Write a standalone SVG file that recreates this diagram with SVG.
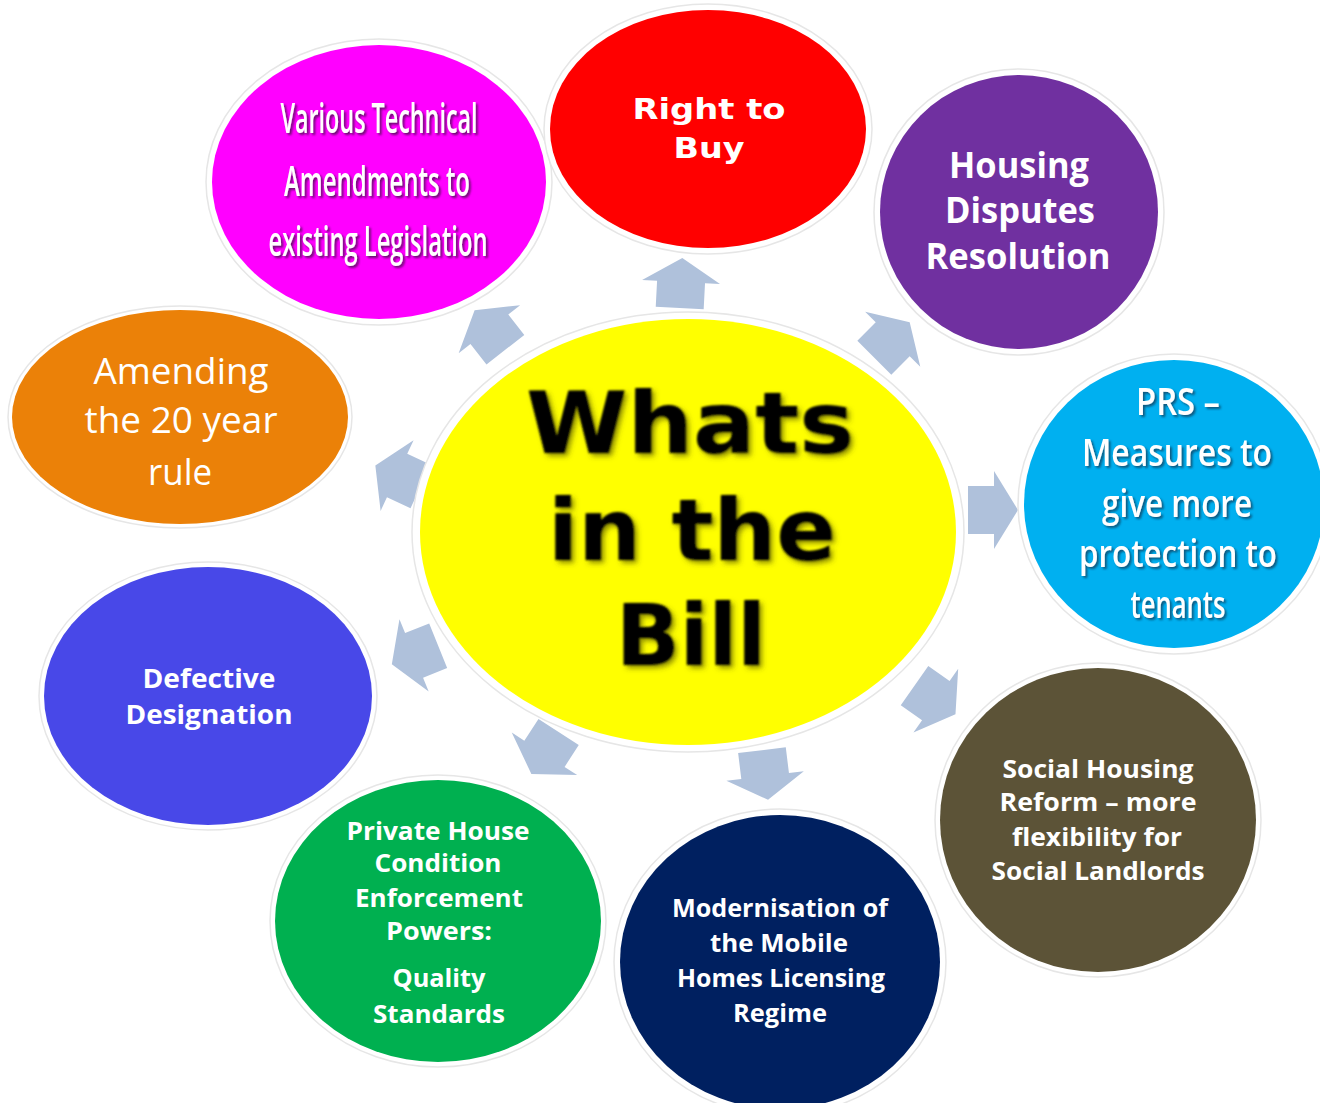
<svg xmlns="http://www.w3.org/2000/svg" width="1320" height="1103" viewBox="0 0 1320 1103">
<defs>
<style>
.halo{fill:#ffffff;stroke:#e6e6e6;stroke-width:1.5}
.t{fill:#ffffff;text-anchor:middle;font-family:"Open Sans","Noto Sans","Liberation Sans",sans-serif;font-weight:bold}
.reg{font-weight:normal}
.dv{font-family:"DejaVu Sans","Open Sans",sans-serif;font-weight:bold}
.arrow{fill:#AFC1DB}
</style>
<filter id="sh" x="-10%" y="-20%" width="120%" height="140%">
<feDropShadow dx="2" dy="2" stdDeviation="1.2" flood-color="#3a1040" flood-opacity="0.75"/>
</filter>
<filter id="shc" x="-10%" y="-20%" width="120%" height="140%">
<feDropShadow dx="2" dy="2" stdDeviation="1.2" flood-color="#0a3050" flood-opacity="0.7"/>
</filter>
<filter id="blur" x="-10%" y="-20%" width="120%" height="140%">
<feGaussianBlur in="SourceGraphic" stdDeviation="1.3" result="b"/>
<feDropShadow in="b" dx="3" dy="3" stdDeviation="2.5" flood-color="#404000" flood-opacity="0.6"/>
</filter>
<path id="arr" d="M0,-25 L39,-1 L24,-1 L24,25 L-24,25 L-24,-1 L-39,-1 Z"/>
</defs>
<rect width="1320" height="1103" fill="#ffffff"/>

<g id="connectors">
<use href="#arr" class="arrow" transform="translate(681,283) rotate(3)"/>
<use href="#arr" class="arrow" transform="translate(490,330) rotate(-38)"/>
<use href="#arr" class="arrow" transform="translate(892,340) rotate(45)"/>
<use href="#arr" class="arrow" transform="translate(993,510) rotate(90)"/>
<use href="#arr" class="arrow" transform="translate(935,700) rotate(125)"/>
<use href="#arr" class="arrow" transform="translate(765,775) rotate(173)"/>
<use href="#arr" class="arrow" transform="translate(545,753) rotate(-147)"/>
<use href="#arr" class="arrow" transform="translate(415,655) rotate(-112)"/>
<use href="#arr" class="arrow" transform="translate(398,476) rotate(-65)"/>
</g>

<g id="center">
<ellipse class="halo" cx="688" cy="532" rx="276" ry="220"/>
<ellipse cx="688" cy="532" rx="268" ry="213" fill="#FFFF00"/>
<g filter="url(#blur)" fill="#000000" text-anchor="middle" class="dv" font-size="86">
<text x="690" y="453" textLength="328" lengthAdjust="spacingAndGlyphs">Whats</text>
<text x="692" y="560" textLength="288" lengthAdjust="spacingAndGlyphs">in the</text>
<text x="691" y="665" textLength="150" lengthAdjust="spacingAndGlyphs">Bill</text>
</g>
</g>

<g id="node-technical">
<ellipse class="halo" cx="379" cy="182" rx="173" ry="143"/>
<ellipse cx="379" cy="182" rx="167" ry="137" fill="#FF00FF"/>
<g class="t reg" font-size="42" filter="url(#sh)" style="font-weight:600">
<text x="379" y="133" textLength="197" lengthAdjust="spacingAndGlyphs">Various Technical</text>
<text x="377" y="196" textLength="186" lengthAdjust="spacingAndGlyphs">Amendments to</text>
<text x="378" y="256" textLength="219" lengthAdjust="spacingAndGlyphs">existing Legislation</text>
</g>
</g>

<g id="node-righttobuy">
<ellipse class="halo" cx="708" cy="129" rx="164" ry="125"/>
<ellipse cx="708" cy="129" rx="158" ry="119" fill="#FF0000"/>
<g class="t dv" fill="#ffffff" text-anchor="middle" font-size="28">
<text x="709" y="119" textLength="153" lengthAdjust="spacingAndGlyphs">Right to</text>
<text x="709" y="158" textLength="71" lengthAdjust="spacingAndGlyphs">Buy</text>
</g>
</g>

<g id="node-disputes">
<ellipse class="halo" cx="1019" cy="212" rx="145" ry="143"/>
<ellipse cx="1019" cy="212" rx="139" ry="137" fill="#7030A0"/>
<g class="t" font-size="36">
<text x="1019" y="178" textLength="140" lengthAdjust="spacingAndGlyphs">Housing</text>
<text x="1020" y="223" textLength="150" lengthAdjust="spacingAndGlyphs">Disputes</text>
<text x="1018" y="269" textLength="185" lengthAdjust="spacingAndGlyphs">Resolution</text>
</g>
</g>

<g id="node-prs">
<ellipse class="halo" cx="1174" cy="504" rx="156" ry="150"/>
<ellipse cx="1174" cy="504" rx="150" ry="144" fill="#00B0F0"/>
<g class="t" font-size="38" filter="url(#shc)" style="font-weight:600">
<text x="1178" y="415" textLength="84" lengthAdjust="spacingAndGlyphs">PRS –</text>
<text x="1177" y="466" textLength="190" lengthAdjust="spacingAndGlyphs">Measures to</text>
<text x="1177" y="517" textLength="150" lengthAdjust="spacingAndGlyphs">give more</text>
<text x="1178" y="567" textLength="198" lengthAdjust="spacingAndGlyphs">protection to</text>
<text x="1178" y="618" textLength="95" lengthAdjust="spacingAndGlyphs">tenants</text>
</g>
</g>

<g id="node-social">
<ellipse class="halo" cx="1098" cy="820" rx="163" ry="157"/>
<ellipse cx="1098" cy="820" rx="158" ry="152" fill="#5C5337"/>
<g class="t" font-size="25">
<text x="1098" y="778" textLength="191" lengthAdjust="spacingAndGlyphs">Social Housing</text>
<text x="1098" y="811" textLength="197" lengthAdjust="spacingAndGlyphs">Reform – more</text>
<text x="1097" y="846" textLength="170" lengthAdjust="spacingAndGlyphs">flexibility for</text>
<text x="1098" y="880" textLength="213" lengthAdjust="spacingAndGlyphs">Social Landlords</text>
</g>
</g>

<g id="node-mobile">
<ellipse class="halo" cx="780" cy="962" rx="166" ry="153"/>
<ellipse cx="780" cy="962" rx="160" ry="147" fill="#002060"/>
<g class="t" font-size="25">
<text x="780" y="917" textLength="216" lengthAdjust="spacingAndGlyphs">Modernisation of</text>
<text x="779" y="952" textLength="138" lengthAdjust="spacingAndGlyphs">the Mobile</text>
<text x="781" y="987" textLength="208" lengthAdjust="spacingAndGlyphs">Homes Licensing</text>
<text x="780" y="1022" textLength="94" lengthAdjust="spacingAndGlyphs">Regime</text>
</g>
</g>

<g id="node-private">
<ellipse class="halo" cx="438" cy="921" rx="168" ry="146"/>
<ellipse cx="438" cy="921" rx="163" ry="141" fill="#00B050"/>
<g class="t" font-size="25">
<text x="438" y="840" textLength="183" lengthAdjust="spacingAndGlyphs">Private House</text>
<text x="438" y="872" textLength="127" lengthAdjust="spacingAndGlyphs">Condition</text>
<text x="439" y="907" textLength="168" lengthAdjust="spacingAndGlyphs">Enforcement</text>
<text x="439" y="940" textLength="106" lengthAdjust="spacingAndGlyphs">Powers:</text>
<text x="439" y="987" textLength="93" lengthAdjust="spacingAndGlyphs">Quality</text>
<text x="439" y="1023" textLength="132" lengthAdjust="spacingAndGlyphs">Standards</text>
</g>
</g>

<g id="node-defective">
<ellipse class="halo" cx="208" cy="696" rx="169" ry="134"/>
<ellipse cx="208" cy="696" rx="164" ry="129" fill="#4848E8"/>
<g class="t" font-size="27">
<text x="209" y="688" textLength="133" lengthAdjust="spacingAndGlyphs">Defective</text>
<text x="209" y="724" textLength="167" lengthAdjust="spacingAndGlyphs">Designation</text>
</g>
</g>

<g id="node-20year">
<ellipse class="halo" cx="180" cy="417" rx="172" ry="111"/>
<ellipse cx="180" cy="417" rx="168" ry="107" fill="#EB8108"/>
<g class="t reg" font-size="36">
<text x="181" y="384" textLength="175" lengthAdjust="spacingAndGlyphs">Amending</text>
<text x="181" y="433" textLength="193" lengthAdjust="spacingAndGlyphs">the 20 year</text>
<text x="180" y="485" textLength="64" lengthAdjust="spacingAndGlyphs">rule</text>
</g>
</g>
</svg>
